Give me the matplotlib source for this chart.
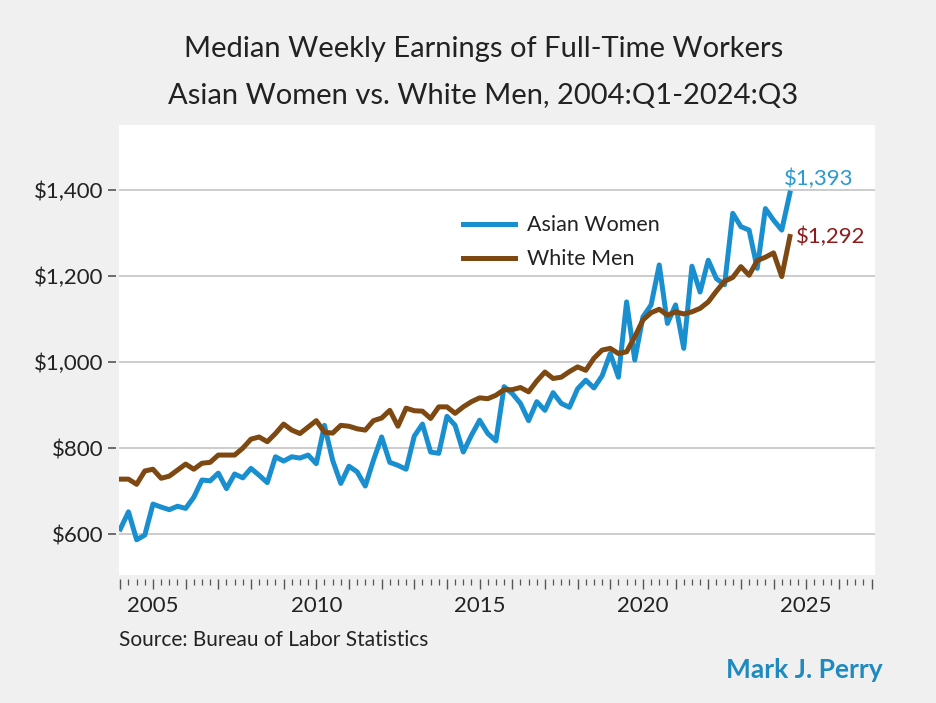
import numpy as np
import pandas as pd
import matplotlib
matplotlib.use("Agg")
import matplotlib.pyplot as plt
from matplotlib.ticker import MultipleLocator, FuncFormatter

plt.rcParams['font.family'] = ['Lato', 'DejaVu Sans']

# quarterly data 2004:Q1 - 2024:Q3
quarters = pd.period_range("2004Q1", "2024Q3", freq="Q")

asian_women = [
    612, 652, 587, 598, 670, 663, 657, 665, 660, 686,
    726, 724, 742, 706, 740, 731, 753, 737, 720, 780,
    770, 780, 777, 784, 764, 853, 772, 718, 758, 745,
    712, 772, 826, 767, 760, 751, 828, 856, 791, 788,
    874, 853, 791, 830, 865, 834, 817, 943, 927, 904,
    864, 908, 888, 929, 904, 895, 938, 958, 940, 968,
    1020, 965, 1140, 1005, 1105, 1133, 1226, 1090, 1133, 1032,
    1223, 1163, 1237, 1194, 1180, 1346, 1315, 1307, 1218, 1357,
    1330, 1307, 1393,
]
white_men = [
    728, 728, 716, 747, 751, 730, 735, 749, 763, 751,
    765, 767, 784, 784, 784, 800, 821, 826, 815, 834,
    856, 842, 834, 849, 864, 837, 835, 853, 851, 845,
    842, 864, 870, 888, 851, 893, 887, 886, 869, 896,
    896, 881, 896, 908, 917, 915, 923, 936, 936, 941,
    931, 956, 977, 962, 965, 978, 989, 981, 1009, 1028,
    1032, 1020, 1024, 1059, 1098, 1115, 1123, 1109, 1117, 1112,
    1117, 1125, 1140, 1165, 1188, 1197, 1222, 1202, 1236, 1244,
    1254, 1199, 1292,
]

x = np.array([p.year + (p.quarter - 1) / 4 for p in quarters])

BLUE = "#1a8fd0"
BROWN = "#7d4811"
BG = "#f0f0f0"

fig = plt.figure(figsize=(9.37, 7.03), dpi=100, facecolor=BG)
ax = fig.add_axes([0.127, 0.182, 0.807, 0.640])
ax.set_facecolor("white")

ax.plot(x, asian_women, color=BLUE, lw=3.6, label="Asian Women", zorder=3)
ax.plot(x, white_men, color=BROWN, lw=3.6, label="White Men", zorder=4)

ax.set_xlim(2003.96, 2027.11)
ax.set_ylim(505, 1551)

# y axis
ax.yaxis.set_major_locator(MultipleLocator(200))
ax.yaxis.set_major_formatter(FuncFormatter(lambda v, p: f"${v:,.0f}"))
ax.grid(axis="y", color="#cccccc", lw=1.4, zorder=1)
ax.set_axisbelow(True)

# x axis: year ticks, quarter minor ticks, labels every 5 years
ax.xaxis.set_major_locator(MultipleLocator(1))
ax.xaxis.set_minor_locator(MultipleLocator(0.25))
ax.xaxis.set_major_formatter(FuncFormatter(lambda v, p: f"{int(round(v))}" if round(v) % 5 == 0 else ""))

for s in ax.spines.values():
    s.set_visible(False)
ax.spines["bottom"].set_position(("outward", 3))
ax.spines["left"].set_position(("outward", 2))

ax.tick_params(axis="x", which="major", length=7, width=1, color="#555555",
               labelsize=16, labelcolor="#222222", pad=5)
ax.tick_params(axis="x", which="minor", length=4, width=0.9, color="#555555")
ax.tick_params(axis="y", length=6, width=1.2, color="#555555",
               labelsize=16, labelcolor="#222222", pad=3)

leg = ax.legend(loc="upper left", bbox_to_anchor=(0.455, 0.80), frameon=False,
                fontsize=15.5, handlelength=2.4, handletextpad=0.55,
                labelspacing=0.65, borderaxespad=0, borderpad=0)
for t in leg.get_texts():
    t.set_color("#222222")

# end labels
ax.annotate(f"${asian_women[-1]:,}", (x[-1], asian_women[-1]),
            xytext=(-4, 3), textcoords="offset points",
            ha="left", va="bottom", fontsize=16, color="#2a9ad0")
ax.annotate(f"${white_men[-1]:,}", (x[-1], white_men[-1]),
            xytext=(4, 0), textcoords="offset points",
            ha="left", va="center", fontsize=16, color="#8e1c1c")

fig.text(0.516, 0.930, "Median Weekly Earnings of Full-Time Workers",
         ha="center", va="center", fontsize=21, color="#222222")
fig.text(0.516, 0.863, "Asian Women vs. White Men, 2004:Q1-2024:Q3",
         ha="center", va="center", fontsize=21, color="#222222")

fig.text(0.127, 0.089, "Source: Bureau of Labor Statistics",
         ha="left", va="center", fontsize=15, color="#222222")
fig.text(0.942, 0.047, "Mark J. Perry", ha="right", va="center",
         fontsize=19, fontweight="bold", color="#1f8ac0")

fig.savefig("out.png", dpi=100, facecolor=BG)
